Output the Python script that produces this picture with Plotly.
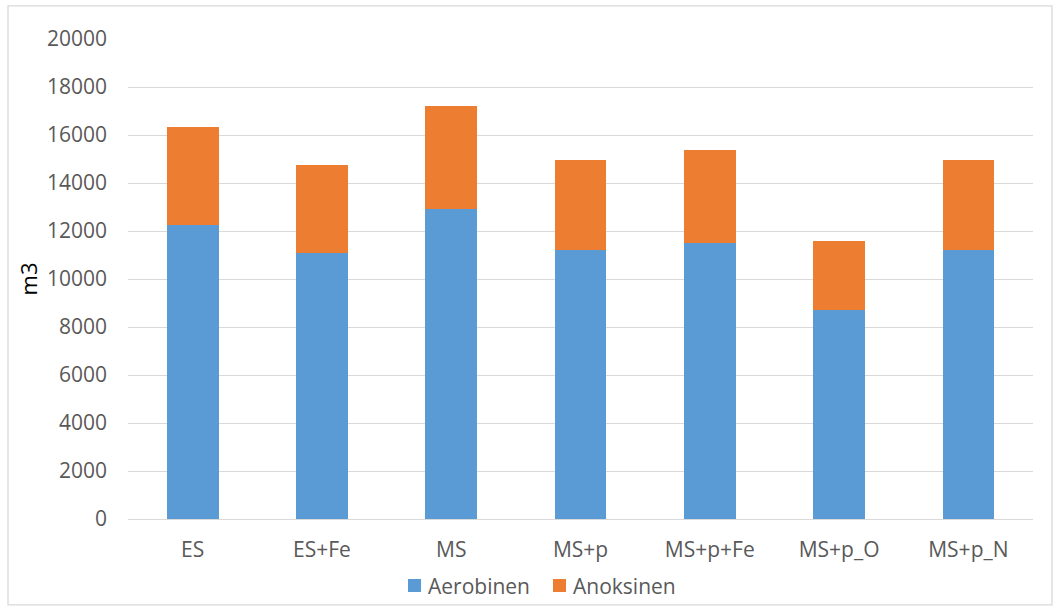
import plotly.graph_objects as go

# Process variants and tank volumes (m3) per zone
categories = ["ES", "ES+Fe", "MS", "MS+p", "MS+p+Fe", "MS+p_O", "MS+p_N"]
aerobinen = [12240, 11070, 12900, 11210, 11510, 8690, 11210]
anoksinen = [4080, 3680, 4300, 3730, 3850, 2890, 3730]
y_ticks = [0, 2000, 4000, 6000, 8000, 10000, 12000, 14000, 16000, 18000, 20000]

BLUE = "#5B9BD5"
ORANGE = "#ED7D31"
GRID = "#D9D9D9"
TEXT = "#595959"
FONT = "Open Sans"
FS = 21

series = [("Aerobinen", aerobinen, BLUE), ("Anoksinen", anoksinen, ORANGE)]

fig = go.Figure()
for name, vals, col in series:
    fig.add_trace(go.Bar(name=name, x=categories, y=vals, showlegend=False,
                         marker=dict(color=col, line=dict(width=0)), width=0.4))

# Compact legend row under the axis: square swatch followed by its label
legend_x = [0.3094, 0.4696]
shapes = [dict(type="rect", xref="paper", yref="paper",
               x0=-0.1326, x1=1.021, y0=-0.179, y1=1.069,
               line=dict(color=GRID, width=1.3), fillcolor="rgba(0,0,0,0)",
               layer="below")]
annotations = []
for (name, _, col), lx in zip(series, legend_x):
    shapes.append(dict(type="rect", xref="paper", yref="paper",
                       x0=lx, x1=lx + 0.0144, y0=-0.1521, y1=-0.125,
                       fillcolor=col, line=dict(width=0)))
    annotations.append(dict(text=name, xref="paper", yref="paper",
                            x=lx + 0.0205, y=-0.1396, xanchor="left", yanchor="middle",
                            showarrow=False, borderpad=0,
                            font=dict(family=FONT, size=FS, color=TEXT)))

fig.update_layout(
    barmode="stack",
    width=1059, height=608,
    margin=dict(l=128, r=26, t=39, b=89, autoexpand=False),
    paper_bgcolor="white", plot_bgcolor="white",
    font=dict(family=FONT, size=FS, color=TEXT),
    showlegend=False,
    xaxis=dict(showgrid=False, showline=False, zeroline=False, ticks="",
               tickfont=dict(family=FONT, size=FS, color=TEXT),
               ticklabelstandoff=16),
    yaxis=dict(range=[0, 20000], tickvals=y_ticks, tickformat="d",
               showgrid=True, gridcolor=GRID,
               gridwidth=1.3, zeroline=True, zerolinecolor=GRID, zerolinewidth=1.3,
               showline=False, ticks="",
               tickfont=dict(family=FONT, size=FS, color=TEXT),
               ticklabelstandoff=20,
               title=dict(text="m3", font=dict(family=FONT, size=22, color="#000000"),
                          standoff=3)),
    shapes=shapes,
    annotations=annotations,
)

fig.write_html("out.html")
